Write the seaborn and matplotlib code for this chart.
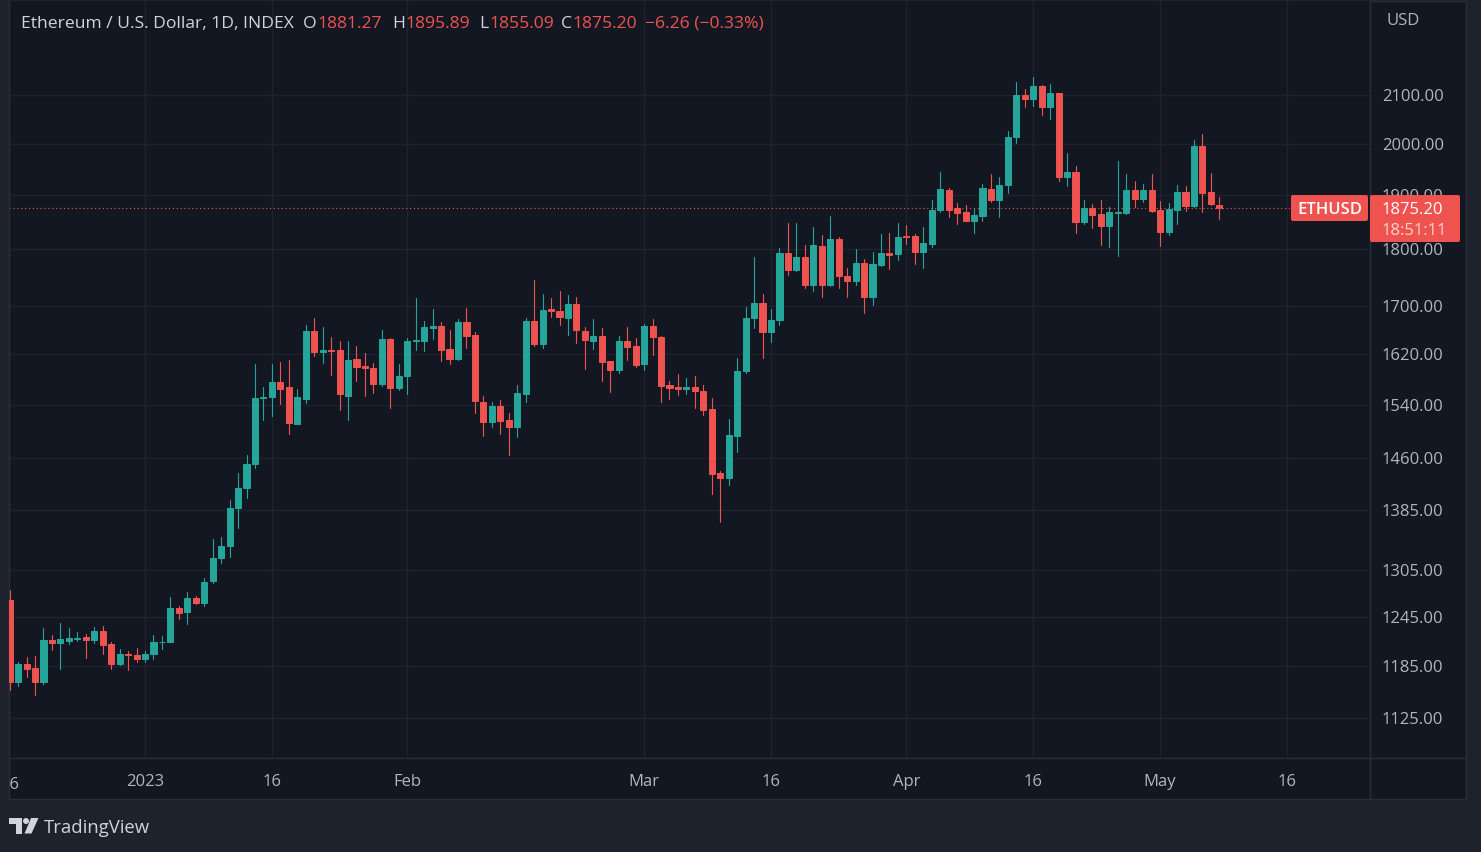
import pandas as pd
import numpy as np
import matplotlib
matplotlib.use("Agg")
import matplotlib.pyplot as plt
import matplotlib.dates as mdates
import matplotlib.ticker as mticker
from matplotlib.patches import Rectangle, FancyBboxPatch, Polygon, Circle
from matplotlib.lines import Line2D
from matplotlib.transforms import IdentityTransform, Bbox, TransformedBbox
import seaborn as sns

W, H = 1481, 852

# daily candles ETH/USD, 16 Dec 2022 .. 8 May 2023
open_ = [1266.6, 1165.8, 1187.0, 1182.7, 1166.6, 1217.0, 1213.0, 1215.0, 1218.0, 1220.0, 1217.0, 1227.0, 1211.0, 1188.0, 1200.0, 1198.0,
         1194.0, 1199.0, 1213.7, 1214.0, 1256.0, 1251.0, 1269.0, 1263.0, 1290.0, 1320.0, 1336.0, 1389.0, 1416.0, 1451.0, 1550.0, 1551.0,
         1576.0, 1566.7, 1511.0, 1549.0, 1658.0, 1623.0, 1626.0, 1626.0, 1554.0, 1612.0, 1601.0, 1598.0, 1572.0, 1645.0, 1565.6,
         1584.6, 1641.7, 1641.7, 1662.0, 1666.7, 1628.0, 1611.7, 1672.0, 1650.5, 1544.7, 1513.0, 1538.5, 1516.0, 1505.7, 1556.6, 1675.0,
         1636.7, 1694.0, 1691.7, 1679.0, 1703.5, 1658.3, 1642.0, 1650.0, 1608.0, 1594.0, 1641.7, 1633.0,
         1604.3, 1665.5, 1648.3, 1570.0, 1566.7, 1563.6, 1566.7, 1561.0, 1532.5, 1437.4, 1430.8, 1492.0, 1593.0, 1679.5, 1704.7, 1655.5,
         1675.5, 1792.5, 1762.0, 1786.0, 1736.8, 1806.0, 1736.8, 1817.0, 1752.6, 1742.7, 1775.0, 1714.6, 1771.6, 1792.5, 1791.0,
         1822.6, 1822.6, 1793.5, 1809.5, 1871.7, 1910.0, 1875.0, 1867.5, 1851.5, 1860.5, 1911.5, 1891.2, 1919.0, 2013.0, 2100.0, 2091.0,
         2118.4, 2075.0, 2103.5, 1935.0, 1943.7, 1850.0, 1875.5, 1864.0, 1842.0, 1866.7, 1865.0, 1909.6, 1892.5, 1909.6,
         1871.7, 1830.0, 1872.3, 1906.4, 1879.4, 1996.0, 1905.7, 1881.27]
high = [1279.0, 1190.0, 1196.3, 1197.0, 1231.7, 1222.7, 1237.3, 1231.6, 1226.6, 1224.0, 1232.0, 1233.4, 1214.4, 1205.6, 1202.5, 1207.0,
        1203.7, 1222.6, 1220.8, 1270.0, 1259.0, 1276.0, 1271.0, 1294.4, 1345.7, 1348.0, 1400.0, 1438.0, 1464.0, 1604.0, 1567.7, 1604.0,
        1607.5, 1610.6, 1565.0, 1668.3, 1680.0, 1664.0, 1648.0, 1641.7, 1640.5, 1632.5, 1621.6, 1605.0, 1660.0, 1647.0, 1604.3,
        1646.0, 1714.0, 1675.0, 1695.0, 1672.8, 1659.0, 1677.8, 1697.0, 1655.5, 1554.0, 1543.6, 1547.8, 1526.4, 1570.0, 1679.5, 1743.9,
        1721.0, 1713.5, 1726.0, 1719.0, 1715.0, 1664.5, 1678.0, 1662.8, 1609.5, 1650.0, 1665.0, 1647.0,
        1670.0, 1678.3, 1650.0, 1577.6, 1588.6, 1582.3, 1584.0, 1570.0, 1550.0, 1440.6, 1517.4, 1613.0, 1699.0, 1784.7, 1720.5, 1694.5,
        1801.2, 1847.4, 1847.0, 1807.6, 1839.3, 1824.6, 1860.0, 1822.0, 1765.0, 1800.0, 1782.0, 1794.0, 1826.4, 1829.7, 1847.4,
        1843.5, 1826.4, 1840.0, 1891.0, 1943.6, 1913.0, 1885.0, 1881.0, 1873.6, 1921.0, 1940.0, 1934.0, 2025.0, 2128.6, 2112.0, 2138.8,
        2120.4, 2122.4, 2104.0, 1982.0, 1956.4, 1890.5, 1883.0, 1890.6, 1878.0, 1964.8, 1940.4, 1927.5, 1921.0, 1940.4,
        1888.0, 1884.9, 1919.2, 1917.3, 2008.0, 2020.4, 1942.3, 1895.89]
low = [1156.6, 1162.0, 1172.7, 1151.3, 1164.5, 1204.0, 1182.0, 1211.0, 1215.6, 1195.0, 1213.0, 1200.0, 1181.2, 1186.2, 1181.0, 1190.0,
       1190.0, 1193.0, 1206.0, 1213.5, 1242.0, 1236.0, 1261.0, 1259.0, 1287.5, 1314.0, 1322.0, 1361.0, 1403.0, 1445.0, 1517.0, 1522.0,
       1541.5, 1496.0, 1510.0, 1542.6, 1617.0, 1605.0, 1586.0, 1531.4, 1516.0, 1577.6, 1553.0, 1558.3, 1568.7, 1535.0, 1562.0,
       1557.0, 1626.0, 1625.0, 1645.0, 1609.5, 1604.0, 1610.0, 1629.4, 1527.5, 1492.0, 1506.0, 1495.0, 1464.5, 1490.6, 1543.6, 1633.8,
       1630.5, 1680.5, 1667.0, 1651.7, 1637.8, 1596.5, 1628.0, 1576.6, 1559.7, 1589.0, 1610.0, 1598.5,
       1595.0, 1618.4, 1543.6, 1549.4, 1554.6, 1555.7, 1534.0, 1523.4, 1408.7, 1369.7, 1420.8, 1468.0, 1589.7, 1662.8, 1614.2, 1639.5,
       1667.0, 1753.0, 1760.0, 1731.0, 1726.3, 1714.6, 1734.0, 1731.0, 1716.0, 1735.6, 1687.8, 1701.8, 1770.0, 1764.6, 1780.7,
       1809.5, 1773.7, 1766.0, 1803.0, 1867.7, 1858.0, 1845.5, 1850.3, 1829.5, 1851.5, 1886.2, 1858.0, 1903.8, 2001.4, 2075.0, 2076.0,
       2057.8, 2051.0, 1926.4, 1916.7, 1829.5, 1845.6, 1837.7, 1807.5, 1802.5, 1786.5, 1864.0, 1878.0, 1886.0, 1867.3,
       1805.6, 1826.0, 1845.3, 1869.8, 1878.0, 1867.3, 1880.0, 1855.09]
close = [1165.8, 1187.4, 1182.0, 1166.6, 1217.0, 1213.0, 1218.0, 1219.0, 1219.0, 1217.0, 1227.0, 1210.0, 1188.0, 1200.0, 1198.0, 1194.0,
         1200.0, 1214.5, 1214.5, 1256.4, 1250.0, 1269.0, 1263.0, 1289.6, 1320.0, 1336.0, 1389.0, 1416.0, 1451.7, 1550.6, 1552.5, 1576.0,
         1564.0, 1511.3, 1552.5, 1658.3, 1623.3, 1626.0, 1625.0, 1555.7, 1610.6, 1599.6, 1597.0, 1572.0, 1645.0, 1565.6, 1585.5,
         1641.7, 1643.3, 1663.8, 1666.7, 1626.7, 1612.0, 1672.2, 1648.9, 1545.2, 1513.3, 1538.5, 1514.3, 1505.7, 1557.2, 1675.0, 1636.7,
         1693.3, 1691.0, 1680.5, 1703.5, 1658.8, 1642.2, 1650.0, 1606.4, 1594.0, 1641.7, 1632.2, 1602.7,
         1665.5, 1647.2, 1568.7, 1565.6, 1563.6, 1566.7, 1561.0, 1531.0, 1436.0, 1430.8, 1493.2, 1593.3, 1679.5, 1704.7, 1655.5, 1676.7,
         1792.5, 1761.9, 1786.0, 1736.8, 1807.6, 1736.8, 1817.0, 1751.4, 1742.7, 1775.0, 1714.6, 1773.7, 1792.5, 1789.5, 1822.0,
         1820.7, 1793.5, 1811.3, 1871.7, 1911.5, 1871.7, 1866.0, 1851.5, 1862.3, 1913.5, 1890.6, 1919.2, 2013.7, 2100.0, 2091.2, 2118.4,
         2075.0, 2103.5, 1935.2, 1943.7, 1849.0, 1875.5, 1862.3, 1842.1, 1867.3, 1867.5, 1909.6, 1892.5, 1909.6, 1869.2,
         1830.7, 1873.6, 1906.4, 1879.4, 1996.0, 1903.8, 1882.0, 1875.20]
dates = pd.date_range("2022-12-16", periods=len(close), freq="D")

price_ticks = [1125, 1185, 1245, 1305, 1385, 1460, 1540, 1620, 1700, 1800, 1900, 2000, 2100]
date_ticks = pd.to_datetime(["2023-01-01", "2023-01-16", "2023-02-01", "2023-03-01", "2023-03-16",
                             "2023-04-01", "2023-04-16", "2023-05-01", "2023-05-16"])
date_labels = ["2023", "16", "Feb", "Mar", "16", "Apr", "16", "May", "16"]

title = "Ethereum / U.S. Dollar, 1D, INDEX"
# (letter, value, letter x, value x) in the legend line
ohlc_parts = [("O", "1881.27", 303, 317), ("H", "1895.89", 392, 405),
              ("L", "1855.09", 479, 489), ("C", "1875.20", 561, 572)]
change_text = "\u22126.26 (\u22120.33%)"
symbol = "ETHUSD"
countdown = "18:51:11"

BG = "#131722"
OUTER = "#1e222d"
BORDER = "#2a2e39"
GRID = "#1f2330"
TXT = "#b2b5be"
UP = "#26a69a"
DOWN = "#ef5350"

sns.set_theme(style="dark", rc={"axes.facecolor": BG, "figure.facecolor": OUTER,
                                 "axes.edgecolor": BORDER, "grid.color": GRID,
                                 "text.color": TXT, "xtick.color": TXT, "ytick.color": TXT})
plt.rcParams['font.family'] = ['Open Sans', 'DejaVu Sans']

PIX = IdentityTransform()
def Y(y):
    return H - y

fig = plt.figure(figsize=(W / 100, H / 100), dpi=100, facecolor=OUTER)

# main dark panel (chart + both axis bands)
fig.add_artist(Rectangle((9, Y(799)), 1466 - 9, 799 - 1, transform=PIX,
                         facecolor=BG, edgecolor=BORDER, lw=1, zorder=0))

ax = fig.add_axes([9 / W, 1 - 758 / H, (1370 - 9) / W, (758 - 1) / H])
ax.set_facecolor(BG)

df = pd.DataFrame({"date": dates, "open": open_, "high": high, "low": low, "close": close})
df["dir"] = np.where(df["close"] >= df["open"], "up", "down")
pal = {"up": UP, "down": DOWN}

# wicks: one vertical line per candle
wicks = pd.concat([df[["date", "low", "dir"]].rename(columns={"low": "price"}),
                   df[["date", "high", "dir"]].rename(columns={"high": "price"})])
sns.lineplot(data=wicks, x="date", y="price", units="date", estimator=None,
             hue="dir", palette=pal, lw=0.8, legend=False, ax=ax, zorder=3)

# bodies
body_lo = np.minimum(df["open"], df["close"])
body_h = np.abs(df["close"] - df["open"])
cols = df["dir"].map(pal)
ax.bar(df["date"], body_h, bottom=body_lo, width=0.72, color=cols, edgecolor=cols, lw=0.7, zorder=4)

ax.set_yscale("log")
ax.set_ylim(1080.8, 2307.4)
ax.set_xlim(dates[0] - pd.Timedelta(days=0.078), dates[0] + pd.Timedelta(days=160.81))
ax.set_xlabel("")
ax.set_ylabel("")

ax.yaxis.tick_right()
ax.yaxis.set_major_locator(mticker.FixedLocator(price_ticks))
ax.yaxis.set_minor_locator(mticker.NullLocator())
ax.yaxis.set_major_formatter(mticker.FuncFormatter(lambda v, _: f"{v:.2f}"))
ax.set_xticks(date_ticks)
ax.set_xticklabels(date_labels)
ax.tick_params(axis="y", length=0, pad=8.6, labelsize=12, labelcolor=TXT)
ax.tick_params(axis="x", length=0, pad=11.5, labelsize=12, labelcolor=TXT)
ax.grid(True, color=GRID, lw=1)
ax.spines["top"].set_visible(False)
for s in ["left", "bottom", "right"]:
    ax.spines[s].set_color(BORDER)
    ax.spines[s].set_linewidth(1)

# first date label, cut by the left edge of the panel
clip = TransformedBbox(Bbox([[9, Y(799)], [1370, Y(758)]]), PIX)
t0 = ax.text(dates[0], -(11.5 * 100 / 72 + 3) / 757, "16", transform=ax.get_xaxis_transform(),
             ha="center", va="top", fontsize=12, color=TXT)
t0.set_clip_box(clip)
t0.set_clip_on(True)

# separators through the axis bands
fig.add_artist(Line2D([1370, 1370], [Y(758), Y(799)], transform=PIX, color=BORDER, lw=1))
fig.add_artist(Line2D([1370, 1466], [Y(758), Y(758)], transform=PIX, color=BORDER, lw=1))

# last price line and tags
last = close[-1]
ax.axhline(last, color=DOWN, lw=0.8, ls=(0, (1, 2.5)), zorder=2)
ty = H - ax.transData.transform((mdates.date2num(dates[-1]), last))[1]
fig.add_artist(FancyBboxPatch((1291, Y(ty + 13)), 77, 26, boxstyle="round,pad=0,rounding_size=2",
                              transform=PIX, facecolor=DOWN, edgecolor="none", zorder=5))
fig.add_artist(FancyBboxPatch((1370, Y(ty + 34)), 90, 47, boxstyle="round,pad=0,rounding_size=2",
                              transform=PIX, facecolor=DOWN, edgecolor="none", zorder=5))
fig.text(1330, Y(ty), symbol, transform=PIX, ha="center", va="center_baseline", fontsize=12,
         color="white", weight="semibold", zorder=6)
fig.text(1382, Y(ty), f"{last:.2f}", transform=PIX, ha="left", va="center_baseline", fontsize=12,
         color="white", weight="medium", zorder=6)
fig.text(1382, Y(ty + 21), countdown, transform=PIX, ha="left", va="center_baseline", fontsize=12,
         color="#fbd3d2", zorder=6)

# header
HFS = 12.6
fig.text(21, Y(22), title, transform=PIX, ha="left", va="center_baseline", fontsize=HFS, color="#d1d4dc")
for lab, val, xl, xv in ohlc_parts:
    fig.text(xl, Y(22), lab, transform=PIX, ha="left", va="center_baseline", fontsize=HFS, color="#d1d4dc")
    fig.text(xv, Y(22), val, transform=PIX, ha="left", va="center_baseline", fontsize=HFS, color=DOWN)
fig.text(645, Y(22), change_text, transform=PIX, ha="left", va="center_baseline", fontsize=HFS, color=DOWN)
fig.text(1386, Y(19), "USD", transform=PIX, ha="left", va="center_baseline", fontsize=12, color=TXT)

# footer logo
LOGO = "#d1d4dc"
fig.add_artist(Rectangle((9, Y(824)), 13, 6, transform=PIX, facecolor=LOGO, edgecolor="none"))
fig.add_artist(Rectangle((15.5, Y(833.5)), 6.5, 15.5, transform=PIX, facecolor=LOGO, edgecolor="none"))
fig.add_artist(Circle((26, Y(821)), 3, transform=PIX, facecolor=LOGO, edgecolor="none"))
fig.add_artist(Polygon([(31, Y(818)), (38.5, Y(818)), (31.5, Y(833.5)), (24.5, Y(833.5))], closed=True,
                       transform=PIX, facecolor=LOGO, edgecolor="none"))
fig.text(44, Y(826), "TradingView", transform=PIX, ha="left", va="center_baseline", fontsize=13.3, color=LOGO)

fig.savefig("out.png", dpi=100, facecolor=OUTER)
